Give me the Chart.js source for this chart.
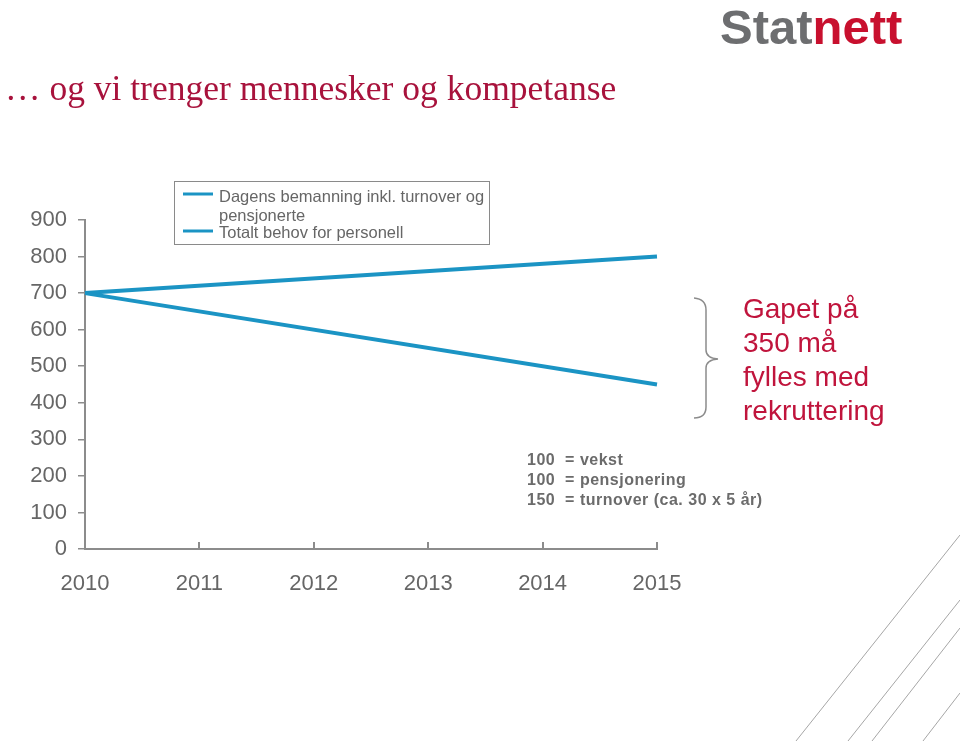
<!DOCTYPE html>
<html>
<head>
<meta charset="utf-8">
<script src="https://cdn.jsdelivr.net/npm/chart.js@4/dist/chart.umd.min.js"></script>
<style>
    html, body { margin: 0; padding: 0; background: #fff; }
    #page { position: relative; width: 960px; height: 741px; overflow: hidden; }
    #page canvas { position: absolute; left: 0; top: 0; }
    .title { position: absolute; left: 5px; top: 70px; line-height: 36px; font-size: 35.5px;
        font-family: 'Liberation Serif', 'Times New Roman', serif; color: #a8123c; white-space: nowrap; }
    .logo { position: absolute; left: 720px; top: 3px; line-height: 49px; font-size: 49px; font-weight: bold;
        font-family: 'Liberation Sans', Arial, sans-serif; white-space: nowrap; }
    .logo .grey { color: #6d6e70; }
    .logo .red { color: #c8102e; }
    .notes { position: absolute; left: 527px; top: 450px; line-height: 20px; font-size: 16px; font-weight: bold;
        letter-spacing: 0.5px; font-family: 'Liberation Sans', Arial, sans-serif; color: #6b6b6b; white-space: pre; }
    .gap { position: absolute; left: 743px; top: 292px; line-height: 34px; font-size: 28px;
        font-family: 'Liberation Sans', Arial, sans-serif; color: #c0143c; white-space: nowrap; }
</style>
</head>
<body>
<div id="page">
    <canvas id="staffChart" width="960" height="741"></canvas>
    <div class="title">… og vi trenger mennesker og kompetanse</div>
    <div class="logo"><span class="grey">Stat</span><span class="red">nett</span></div>
    <div class="notes" id="notes"></div>
    <div class="gap" id="gap"></div>
</div>
<script>
// Data

const years = ['2010', '2011', '2012', '2013', '2014', '2015'];

// only start and end are given, the line between them is straight
const dagensBemanning = [700, null, null, null, null, 450];
const totaltBehov = [700, null, null, null, null, 800];

const legendLabels = [
    ['Dagens bemanning inkl. turnover og', 'pensjonerte'],
    ['Totalt behov for personell'],
];

const notes = ['100  = vekst', '100  = pensjonering', '150  = turnover (ca. 30 x 5 år)'];
const gapText = ['Gapet på', '350 må', 'fylles med', 'rekruttering'];

const yMax = 900;
const yStep = 100;

const lineColor = '#1b94c4';
const axisColor = '#8c8c8c';
const textColor = '#666666';
const font = "'Liberation Sans', Arial, sans-serif";


// text blocks

document.getElementById('notes').textContent = notes.join('\n');
document.getElementById('gap').innerHTML = gapText.join('<br>');


// extras drawn on the canvas: legend, upward x ticks, brace, slide lines

const extras = {
    id: 'extras',
    beforeDraw: (chart) => {
        const ctx = chart.ctx;
        ctx.save();
        ctx.strokeStyle = '#a6a6a6';
        ctx.lineWidth = 1;
        [[960, 535, 796, 741], [960, 600, 848, 741], [960, 628, 872, 741], [960, 693, 923, 741]].forEach(l => {
            ctx.beginPath();
            ctx.moveTo(l[0], l[1]);
            ctx.lineTo(l[2], l[3]);
            ctx.stroke();
        });
        ctx.restore();
    },
    afterDraw: (chart) => {
        const ctx = chart.ctx;
        const x = chart.scales.x;
        const bottom = chart.chartArea.bottom;

        ctx.save();

        // x ticks pointing up
        ctx.strokeStyle = axisColor;
        ctx.lineWidth = 2;
        for (let i = 1; i < years.length; i++) {
            const px = Math.round(x.getPixelForTick(i));
            ctx.beginPath();
            ctx.moveTo(px, bottom);
            ctx.lineTo(px, bottom - 7);
            ctx.stroke();
        }

        // legend
        ctx.strokeStyle = '#8a8a8a';
        ctx.lineWidth = 1;
        ctx.strokeRect(174.5, 181.5, 315, 63);

        const sampleY = [194, 231];
        const textY = [[202, 221], [238]];
        ctx.font = '16.5px ' + font;
        ctx.fillStyle = textColor;
        ctx.textBaseline = 'alphabetic';
        chart.data.datasets.forEach((ds, i) => {
            ctx.strokeStyle = ds.borderColor;
            ctx.lineWidth = 3;
            ctx.beginPath();
            ctx.moveTo(183, sampleY[i]);
            ctx.lineTo(213, sampleY[i]);
            ctx.stroke();
            legendLabels[i].forEach((t, j) => ctx.fillText(t, 219, textY[i][j]));
        });

        // brace
        ctx.strokeStyle = '#8c8c8c';
        ctx.lineWidth = 1.5;
        ctx.beginPath();
        ctx.moveTo(694, 298);
        ctx.quadraticCurveTo(706, 299, 706, 310);
        ctx.lineTo(706, 350);
        ctx.quadraticCurveTo(706, 358, 718, 359);
        ctx.quadraticCurveTo(706, 360, 706, 368);
        ctx.lineTo(706, 407);
        ctx.quadraticCurveTo(706, 418, 694, 418);
        ctx.stroke();

        ctx.restore();
    }
};


// Chart

const staffChart = document.getElementById('staffChart');

const line = new Chart(staffChart, {
    type: 'line',
    data: {
        labels: years,
        datasets: [{
            label: legendLabels[0].join(' '),
            data: dagensBemanning,
            borderColor: lineColor,
            borderWidth: 4,
            pointRadius: 0,
            spanGaps: true,
        }, {
            label: legendLabels[1].join(' '),
            data: totaltBehov,
            borderColor: lineColor,
            borderWidth: 4,
            pointRadius: 0,
            spanGaps: true,
        }],
    },
    options: {
        responsive: false,
        animation: false,
        layout: {
            padding: { top: 220, right: 303, bottom: 142, left: 0 },
        },
        plugins: {
            legend: { display: false },
            tooltip: { enabled: false },
        },
        scales: {
            x: {
                offset: false,
                afterFit: (scale) => { scale.height = 50; },
                grid: { drawOnChartArea: false, drawTicks: false },
                border: { color: axisColor, width: 2 },
                ticks: {
                    color: textColor,
                    font: { family: font, size: 22 },
                    padding: 22,
                    maxRotation: 0,
                },
            },
            y: {
                min: 0,
                max: yMax,
                afterFit: (scale) => { scale.width = 85; },
                grid: { drawOnChartArea: false, drawTicks: true, tickLength: 7, color: axisColor, lineWidth: 1.5 },
                border: { color: axisColor, width: 2 },
                ticks: {
                    stepSize: yStep,
                    color: textColor,
                    font: { family: font, size: 22 },
                    padding: 11,
                },
            },
        },
    },
    plugins: [extras],
});
</script>
</body>
</html>
